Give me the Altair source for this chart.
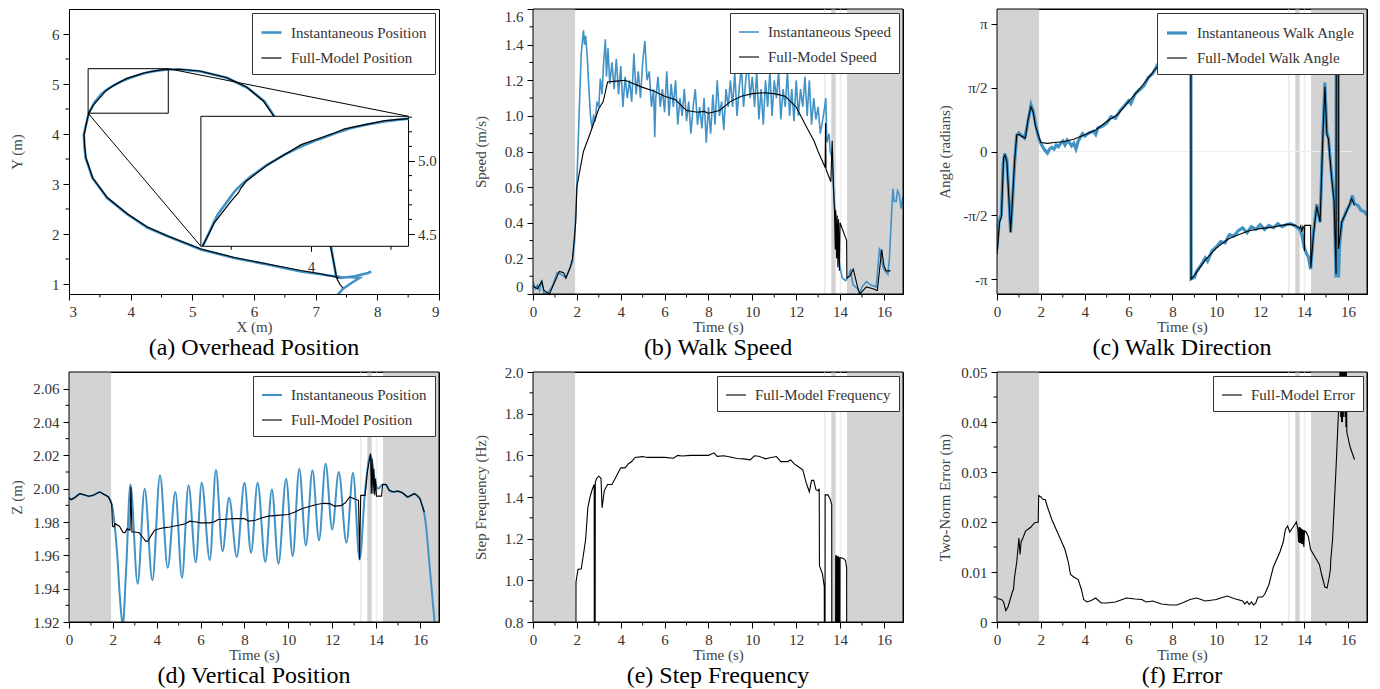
import altair as alt
import pandas as pd

FONT = "Liberation Serif"
BLUE = "#4292c6"
GRAY = "#d3d3d3"
LIGHT = "#ececec"
TMAX = 16.87
W = 370
H_TOP = 285
H_BOT = 250

# ---------------- shading bands (seconds) ----------------
band_start = [0.0, 13.6, 14.32]
band_end = [1.92, 13.8, 16.87]
light_start = [13.27, 13.99]
light_end = [13.34, 14.06]

t_major = [0, 2, 4, 6, 8, 10, 12, 14, 16]
t_minor = [1, 3, 5, 7, 9, 11, 13, 15]

# ---------------- (a) overhead position ----------------
traj_inst_x = [7.34, 7.44, 7.58, 7.71, 7.55, 7.41, 7.33, 7.29, 7.25, 6.9, 6.55, 6.33, 6.17, 5.9, 5.57, 5.14, 4.8,
               4.612, 4.56, 4.461, 4.35, 4.252, 4.15, 4.043, 3.94, 3.833, 3.72, 3.624, 3.57, 3.52, 3.47, 3.415,
               3.39, 3.37, 3.345, 3.32, 3.28, 3.24, 3.25, 3.27, 3.38, 3.62, 3.95, 4.27, 4.6, 5.14, 5.68, 6.22,
               6.76, 7.05, 7.3, 7.41, 7.63, 7.85, 7.9]
traj_inst_y = [0.76, 0.9, 1.02, 1.12, 1.14, 1.13, 1.17, 1.45, 1.75, 2.9, 3.85, 4.354, 4.65, 4.92, 5.12, 5.25, 5.29,
               5.29, 5.285, 5.27, 5.25, 5.226, 5.19, 5.146, 5.1, 5.044, 4.97, 4.895, 4.845, 4.79, 4.715, 4.633,
               4.58, 4.53, 4.47, 4.416, 4.2, 3.99, 3.75, 3.52, 3.12, 2.72, 2.39, 2.13, 1.955, 1.69, 1.52, 1.39,
               1.25, 1.2, 1.155, 1.12, 1.155, 1.22, 1.25]
traj_full_x = [7.44, 7.39, 7.34, 7.29, 7.24, 6.9, 6.55, 6.32, 6.15, 5.88, 5.55, 5.12, 4.8, 4.612, 4.461, 4.21,
               4.147, 3.938, 3.729, 3.593, 3.561, 3.544, 3.498, 3.394, 3.32, 3.28, 3.245, 3.255, 3.275, 3.385,
               3.62, 3.95, 4.27, 4.6, 5.14, 5.68, 6.22, 6.76, 7.0, 7.1, 7.2, 7.3, 7.38]
traj_full_y = [0.92, 1.0, 1.12, 1.45, 1.75, 2.9, 3.85, 4.36, 4.66, 4.94, 5.13, 5.26, 5.295, 5.29, 5.276, 5.22,
               5.192, 5.112, 4.975, 4.861, 4.815, 4.781, 4.724, 4.576, 4.416, 4.2, 3.99, 3.75, 3.52, 3.12,
               2.73, 2.4, 2.14, 1.96, 1.7, 1.53, 1.4, 1.27, 1.22, 1.2, 1.17, 1.15, 1.12]
zoom_box = [3.31, 4.61, 4.416, 5.306]          # x0, x1, y0, y1 of the zoomed region
inset_corners = [5.139, 1.754, 8.506, 4.354]   # inset placement in main axes coords (x0, y0, x1, y1)

# ---------------- (b) walk speed ----------------
speed_inst = [(0.0, 0.07), (0.1, 0.03), (0.2, 0.05), (0.3, 0.02), (0.4, 0.08), (0.5, 0.0), (0.7, 0.01), (0.9, 0.05),
              (1.1, 0.12), (1.3, 0.11), (1.5, 0.09), (1.7, 0.15), (1.8, 0.18), (1.9, 0.3), (2.0, 0.62), (2.1, 1.0),
              (2.2, 1.35), (2.3, 1.48), (2.35, 1.4), (2.4, 1.45), (2.47, 1.34), (2.55, 1.15), (2.62, 1.0),
              (2.69, 0.93), (2.76, 1.0), (2.84, 0.98), (2.92, 1.08), (3.0, 1.05), (3.07, 1.21), (3.15, 1.12),
              (3.22, 1.3), (3.3, 1.43), (3.35, 1.22), (3.42, 1.38), (3.5, 1.18), (3.6, 1.3), (3.7, 1.15),
              (3.8, 1.32), (3.9, 1.12), (4.0, 1.28), (4.1, 1.05), (4.2, 1.22), (4.3, 1.1), (4.4, 1.2), (4.5, 1.08),
              (4.6, 1.35), (4.7, 1.12), (4.8, 1.25), (4.9, 1.1), (5.0, 1.3), (5.1, 1.42), (5.2, 1.2), (5.3, 1.25),
              (5.4, 1.05), (5.5, 1.15), (5.55, 0.88), (5.6, 1.1), (5.7, 1.22), (5.8, 1.05), (5.9, 1.15),
              (6.0, 1.02), (6.1, 1.25), (6.2, 1.0), (6.3, 1.18), (6.4, 1.05), (6.5, 1.2), (6.6, 0.95), (6.7, 1.1),
              (6.8, 1.0), (6.9, 1.15), (7.0, 0.97), (7.1, 1.08), (7.2, 0.9), (7.3, 1.05), (7.4, 1.15), (7.5, 0.95),
              (7.6, 1.05), (7.7, 0.93), (7.8, 1.1), (7.9, 0.85), (8.0, 1.05), (8.1, 0.9), (8.2, 1.12), (8.3, 0.95),
              (8.4, 1.2), (8.5, 1.0), (8.6, 1.08), (8.7, 0.92), (8.8, 1.15), (8.9, 1.05), (9.0, 1.2), (9.1, 1.05),
              (9.2, 1.25), (9.3, 1.0), (9.4, 1.15), (9.5, 1.28), (9.6, 1.05), (9.7, 1.2), (9.8, 1.3), (9.9, 1.1),
              (10.0, 1.22), (10.1, 1.05), (10.2, 1.25), (10.3, 0.98), (10.4, 1.15), (10.5, 0.95), (10.6, 1.2),
              (10.7, 1.05), (10.8, 1.25), (10.9, 1.0), (11.0, 1.2), (11.1, 1.1), (11.2, 1.25), (11.3, 0.98),
              (11.4, 1.15), (11.5, 1.05), (11.6, 1.25), (11.7, 1.0), (11.8, 1.15), (11.9, 0.97), (12.0, 1.2),
              (12.1, 1.0), (12.2, 1.15), (12.3, 1.05), (12.4, 1.22), (12.5, 1.0), (12.6, 1.2), (12.7, 0.95),
              (12.8, 1.1), (12.9, 0.98), (13.0, 1.05), (13.1, 0.9), (13.2, 0.97), (13.3, 1.05), (13.35, 1.1),
              (13.4, 0.85), (13.5, 0.9), (13.55, 0.8), (13.6, 0.78), (13.65, 0.75), (13.7, 0.6), (13.75, 0.5),
              (13.8, 0.45), (13.88, 0.33), (13.95, 0.2), (14.0, 0.15), (14.1, 0.09), (14.25, 0.075), (14.4, 0.1),
              (14.48, 0.14), (14.55, 0.08), (14.6, 0.05), (14.8, 0.03), (14.9, 0.0), (15.0, 0.04), (15.2, 0.07),
              (15.4, 0.05), (15.65, 0.04), (15.8, 0.26), (15.95, 0.15), (16.1, 0.12), (16.18, 0.11), (16.25, 0.2),
              (16.35, 0.45), (16.41, 0.59), (16.47, 0.52), (16.56, 0.52), (16.62, 0.58), (16.7, 0.56),
              (16.78, 0.48), (16.87, 0.55)]
speed_full = [(0.0, 0.043), (0.2, 0.03), (0.4, 0.07), (0.5, 0.02), (0.75, 0.0), (1.0, 0.07), (1.2, 0.127), (1.4, 0.12),
              (1.5, 0.09), (1.7, 0.15), (1.8, 0.2), (1.95, 0.407), (2.0, 0.6), (2.1, 0.67), (2.3, 0.8), (2.6, 0.9),
              (3.0, 1.04), (3.2, 1.08), (3.4, 1.19), (3.8, 1.195), (4.2, 1.2), (5.0, 1.16), (5.5, 1.14), (6.0, 1.11),
              (6.5, 1.09), (7.0, 1.03), (7.5, 1.02), (7.8, 1.025), (8.0, 1.015), (8.5, 1.03), (9.0, 1.08),
              (9.5, 1.11), (10.0, 1.125), (10.5, 1.13), (11.0, 1.125), (11.5, 1.11), (12.0, 1.05), (12.5, 0.93),
              (12.81, 0.86), (13.0, 0.8), (13.32, 0.71), (13.34, 0.96), (13.36, 0.7), (13.58, 0.63), (13.64, 0.86),
              (13.7, 0.6), (13.75, 0.45), (13.78, 0.25), (13.8, 0.47), (13.84, 0.2), (13.87, 0.44), (13.9, 0.15),
              (13.93, 0.42), (13.97, 0.13), (14.0, 0.4), (14.3, 0.3), (14.31, 0.09), (14.45, 0.1), (14.6, 0.14),
              (14.8, 0.04), (14.9, 0.0), (15.2, 0.04), (15.5, 0.03), (15.7, 0.02), (15.9, 0.25), (16.0, 0.16),
              (16.1, 0.13), (16.3, 0.13)]

# ---------------- (c) walk direction (radians) ----------------
angle_inst = [(0.0, -2.4), (0.05, -2.0), (0.1, -1.7), (0.2, -1.55), (0.28, -0.3), (0.35, -0.05), (0.45, -0.2),
              (0.55, -1.2), (0.62, -2.0), (0.7, -1.3), (0.8, -0.3), (0.9, 0.4), (1.0, 0.46), (1.1, 0.4),
              (1.25, 0.33), (1.35, 0.55), (1.45, 0.85), (1.55, 1.15), (1.65, 1.0), (1.75, 0.7), (1.9, 0.33),
              (2.0, 0.2), (2.1, 0.1), (2.2, 0.02), (2.3, -0.04), (2.4, 0.06), (2.5, 0.1), (2.6, 0.06), (2.7, 0.16),
              (2.8, 0.12), (2.9, 0.2), (3.0, 0.26), (3.1, 0.16), (3.2, 0.28), (3.3, 0.22), (3.4, 0.14), (3.5, 0.2),
              (3.6, 0.06), (3.7, 0.25), (3.8, 0.35), (3.9, 0.44), (4.0, 0.38), (4.2, 0.46), (4.4, 0.5), (4.5, 0.42),
              (4.6, 0.58), (4.8, 0.62), (5.0, 0.7), (5.2, 0.86), (5.4, 0.82), (5.6, 1.0), (5.8, 1.12), (6.0, 1.25),
              (6.1, 1.18), (6.3, 1.42), (6.5, 1.52), (6.7, 1.62), (6.9, 1.82), (7.1, 1.92), (7.3, 2.12), (7.5, 2.3),
              (7.6, 2.22), (7.8, 2.45), (8.2, 2.72), (8.5, 2.95), (8.84, 3.14), (8.85, -3.14), (9.0, -3.1),
              (9.1, -2.95), (9.3, -2.8), (9.5, -2.62), (9.6, -2.7), (9.8, -2.45), (10.0, -2.35), (10.2, -2.22),
              (10.4, -2.25), (10.6, -2.05), (10.8, -2.08), (11.0, -1.95), (11.2, -1.88), (11.4, -2.0),
              (11.6, -1.85), (11.8, -1.92), (12.0, -1.8), (12.2, -1.92), (12.4, -1.82), (12.6, -1.88),
              (12.8, -1.78), (13.0, -1.85), (13.2, -1.8), (13.4, -1.78), (13.6, -1.84), (13.8, -1.92),
              (13.9, -2.05), (14.0, -2.35), (14.1, -2.5), (14.2, -2.6), (14.3, -2.9), (14.43, -2.0), (14.58, -1.3),
              (14.73, -1.75), (14.86, 0.45), (14.95, 1.7), (15.04, 0.45), (15.11, 0.35), (15.26, -0.62),
              (15.37, -1.2), (15.46, -3.1), (15.47, 3.3), (15.56, 3.3), (15.57, -3.1), (15.62, -2.3),
              (15.72, -1.75), (15.94, -1.45), (16.1, -1.3), (16.2, -1.08), (16.3, -1.3), (16.45, -1.32),
              (16.6, -1.45), (16.75, -1.48), (16.87, -1.57)]
angle_full = [(0.0, -2.54), (0.12, -1.73), (0.2, -1.63), (0.3, -0.16), (0.36, -0.09), (0.45, -0.25), (0.55, -1.23),
              (0.62, -1.98), (0.7, -1.23), (0.8, -0.25), (0.9, 0.41), (1.0, 0.42), (1.1, 0.38), (1.3, 0.33),
              (1.4, 0.74), (1.55, 1.1), (1.65, 0.97), (1.75, 0.63), (1.9, 0.38), (2.0, 0.22), (2.3, 0.2),
              (2.6, 0.22), (3.0, 0.24), (3.5, 0.3), (4.0, 0.41), (4.5, 0.53), (5.0, 0.74), (5.5, 0.91), (6.0, 1.23),
              (6.5, 1.54), (7.0, 1.88), (7.5, 2.21), (7.8, 2.42), (8.2, 2.7), (8.5, 2.92), (8.84, 3.14),
              (8.85, -3.14), (9.0, -3.05), (9.5, -2.67), (10.0, -2.38), (10.5, -2.17), (11.0, -2.05),
              (11.5, -1.95), (12.0, -1.9), (12.5, -1.87), (13.0, -1.82), (13.3, -1.79), (13.6, -1.82),
              (13.7, -1.85), (13.8, -1.89), (13.85, -1.83), (13.9, -1.98), (13.95, -1.84), (14.0, -1.9),
              (14.02, -2.45), (14.03, -1.82), (14.3, -1.82), (14.31, -2.86), (14.43, -2.04), (14.58, -1.35),
              (14.73, -1.73), (14.86, 0.41), (14.95, 1.6), (15.04, 0.41), (15.11, 0.31), (15.26, -0.66),
              (15.37, -1.23), (15.46, -3.02), (15.47, 3.3), (15.56, 3.3), (15.57, -2.4), (15.72, -1.73),
              (15.94, -1.48), (16.17, -1.16), (16.3, -1.32)]
zero_line = [(1.92, 16.2)]

# ---------------- (d) vertical position ----------------
z_inst = [(0.0, 1.9945), (0.1, 1.9935), (0.3, 1.995), (0.5, 1.997), (0.75, 1.996), (0.9, 1.9955), (1.1, 1.996),
          (1.4, 1.998), (1.6, 1.9965), (1.8, 1.995), (1.95, 1.9905), (2.05, 1.982), (2.2, 1.96), (2.32, 1.935),
          (2.45, 1.918), (2.6, 1.95), (2.8, 2.0025), (3.13, 1.943), (3.45, 2.0), (3.8, 1.945), (4.15, 2.008),
          (4.5, 1.9525), (4.85, 1.998), (5.15, 1.9465), (5.45, 2.002), (5.78, 1.9558), (6.05, 2.0035),
          (6.42, 1.957), (6.7, 2.0112), (7.0, 1.9625), (7.3, 1.9945), (7.65, 1.959), (8.0, 2.0035),
          (8.3, 1.9615), (8.6, 2.0035), (8.95, 1.956), (9.25, 1.9995), (9.55, 1.955), (9.9, 2.006),
          (10.2, 1.9595), (10.5, 2.012), (10.8, 1.966), (11.1, 2.011), (11.4, 1.969), (11.7, 2.015),
          (12.0, 1.9755), (12.3, 2.01), (12.65, 1.9675), (12.95, 2.0095), (13.25, 1.9575), (13.5, 1.9985),
          (13.75, 2.0205), (13.95, 2.0045), (14.1, 2.0), (14.3, 2.0025), (14.45, 2.0025), (14.6, 1.999),
          (14.8, 1.998), (15.0, 1.9985), (15.2, 1.9975), (15.45, 1.995), (15.6, 1.996), (15.75, 1.997),
          (15.9, 1.9955), (16.0, 1.994), (16.1, 1.99), (16.2, 1.985), (16.3, 1.975), (16.4, 1.96),
          (16.5, 1.945), (16.6, 1.93), (16.68, 1.918), (16.75, 1.9)]
z_full = [(0.0, 1.9945), (0.1, 1.9935), (0.3, 1.995), (0.5, 1.997), (0.75, 1.996), (0.9, 1.9955), (1.1, 1.996),
          (1.4, 1.998), (1.6, 1.9965), (1.8, 1.995), (1.95, 1.9905), (1.98, 1.9775), (2.05, 1.977), (2.1, 1.979),
          (2.3, 1.9775), (2.45, 1.974), (2.55, 1.9735), (2.65, 1.976), (2.78, 1.975), (2.82, 2.001),
          (2.87, 1.974), (3.0, 1.974), (3.2, 1.9735), (3.35, 1.971), (3.5, 1.9685), (3.6, 1.9685), (3.75, 1.972),
          (3.9, 1.975), (4.0, 1.9755), (4.3, 1.9765), (4.6, 1.977), (5.0, 1.978), (5.3, 1.979), (5.5, 1.9805),
          (5.8, 1.98), (6.0, 1.9795), (6.4, 1.9795), (6.6, 1.98), (6.8, 1.9815), (7.0, 1.9815), (7.5, 1.982),
          (8.0, 1.982), (8.2, 1.9805), (8.5, 1.981), (8.8, 1.9825), (9.1, 1.9835), (9.5, 1.984), (10.0, 1.9845),
          (10.3, 1.986), (10.6, 1.988), (11.0, 1.9895), (11.3, 1.9905), (11.6, 1.9912), (11.9, 1.991),
          (12.1, 1.9895), (12.4, 1.9898), (12.6, 1.9915), (12.8, 1.995), (13.0, 1.994), (13.2, 1.993),
          (13.25, 1.9575), (13.3, 1.996), (13.5, 1.996), (13.6, 2.01), (13.75, 2.021), (13.78, 1.997),
          (13.82, 2.018), (13.86, 1.997), (13.9, 2.012), (13.94, 1.996), (13.98, 2.006), (14.02, 1.9955),
          (14.25, 1.9955), (14.3, 2.0025), (14.45, 2.0025), (14.6, 1.999), (14.8, 1.998), (15.0, 1.9985),
          (15.2, 1.9975), (15.45, 1.995), (15.6, 1.996), (15.75, 1.997), (15.9, 1.9955), (16.0, 1.994),
          (16.1, 1.99), (16.2, 1.986)]

# ---------------- (e) step frequency ----------------
freq_full = [(1.95, 0.0), (1.96, 0.99), (2.05, 1.052), (2.2, 1.055), (2.3, 1.124), (2.4, 1.196), (2.5, 1.348),
             (2.6, 1.4), (2.7, 1.436), (2.79, 1.46), (2.8, 0.0), (2.83, 0.0), (2.84, 1.47), (2.9, 1.489),
             (3.0, 1.5), (3.1, 1.49), (3.15, 1.348), (3.25, 1.43), (3.4, 1.46), (3.6, 1.46), (3.8, 1.5),
             (4.0, 1.54), (4.2, 1.54), (4.35, 1.56), (4.5, 1.57), (4.65, 1.59), (5.0, 1.594), (5.2, 1.59),
             (5.5, 1.59), (6.0, 1.59), (6.4, 1.586), (6.6, 1.6), (6.8, 1.597), (7.2, 1.6), (7.6, 1.6), (8.0, 1.6),
             (8.25, 1.612), (8.4, 1.595), (8.7, 1.598), (9.0, 1.592), (9.3, 1.585), (9.6, 1.583), (9.9, 1.578),
             (10.1, 1.598), (10.3, 1.596), (10.6, 1.583), (10.8, 1.588), (11.1, 1.594), (11.3, 1.57), (11.6, 1.57),
             (11.75, 1.578), (11.9, 1.56), (12.1, 1.545), (12.3, 1.53), (12.45, 1.47), (12.6, 1.425),
             (12.7, 1.48), (12.8, 1.48), (12.9, 1.435), (13.0, 1.43), (13.05, 1.44), (13.06, 1.07), (13.2, 1.03),
             (13.28, 0.97), (13.3, 0.0), (13.31, 0.0), (13.32, 1.41), (13.45, 1.41), (13.55, 1.39),
             (13.62, 1.364), (13.63, 0.0), (13.79, 0.0), (13.8, 1.12), (13.82, 0.0), (13.84, 1.12), (13.86, 0.0),
             (13.88, 1.115), (13.9, 0.0), (13.92, 1.115), (13.94, 0.0), (13.96, 1.11), (13.98, 0.0), (14.0, 1.11),
             (14.15, 1.105), (14.25, 1.095), (14.3, 1.06), (14.31, 0.0)]

# ---------------- (f) error ----------------
err_full = [(0.0, 0.0047), (0.2, 0.0045), (0.3, 0.004), (0.4, 0.0023), (0.5, 0.003), (0.6, 0.0045), (0.7, 0.006),
            (0.75, 0.0065), (0.8, 0.009), (0.9, 0.012), (1.0, 0.0168), (1.05, 0.0135), (1.1, 0.016), (1.2, 0.017),
            (1.3, 0.0182), (1.4, 0.0185), (1.55, 0.019), (1.7, 0.0198), (1.88, 0.02), (1.9, 0.0253),
            (2.0, 0.025), (2.1, 0.0245), (2.2, 0.0245), (2.3, 0.023), (2.5, 0.0205), (2.7, 0.0185),
            (2.9, 0.0165), (3.1, 0.0145), (3.25, 0.012), (3.35, 0.0095), (3.5, 0.009), (3.7, 0.0085),
            (3.85, 0.0065), (3.95, 0.0045), (4.1, 0.004), (4.3, 0.0043), (4.5, 0.0048), (4.75, 0.0038),
            (5.0, 0.0038), (5.4, 0.004), (5.9, 0.0048), (6.3, 0.0046), (6.6, 0.0045), (6.8, 0.004),
            (7.1, 0.0042), (7.5, 0.0036), (7.9, 0.0034), (8.2, 0.0034), (8.5, 0.0039), (8.8, 0.0045),
            (9.1, 0.0048), (9.5, 0.0042), (10.0, 0.0045), (10.2, 0.0048), (10.5, 0.0052), (10.8, 0.0047),
            (11.2, 0.0042), (11.3, 0.0036), (11.4, 0.0041), (11.5, 0.0035), (11.6, 0.004), (11.7, 0.0034),
            (11.8, 0.0038), (11.9, 0.005), (12.1, 0.005), (12.2, 0.0055), (12.4, 0.0075), (12.6, 0.011),
            (12.9, 0.014), (13.05, 0.016), (13.15, 0.0185), (13.25, 0.0192), (13.35, 0.018), (13.5, 0.019),
            (13.65, 0.02), (13.72, 0.0185), (13.75, 0.016), (13.77, 0.019), (13.79, 0.0158), (13.81, 0.019),
            (13.83, 0.0158), (13.85, 0.0188), (13.87, 0.0157), (13.89, 0.0186), (13.91, 0.0156),
            (13.93, 0.0185), (13.95, 0.0155), (13.97, 0.0184), (13.99, 0.015), (14.02, 0.0182), (14.1, 0.018),
            (14.2, 0.017), (14.3, 0.0145), (14.5, 0.013), (14.7, 0.0115), (14.8, 0.0095), (14.95, 0.007),
            (15.05, 0.0068), (15.15, 0.009), (15.2, 0.0105), (15.22, 0.0125), (15.3, 0.0165), (15.45, 0.03),
            (15.6, 0.045), (15.65, 0.052), (15.67, 0.041), (15.69, 0.052), (15.71, 0.04), (15.73, 0.052),
            (15.75, 0.04), (15.77, 0.052), (15.79, 0.041), (15.81, 0.052), (15.83, 0.042), (15.85, 0.052),
            (15.87, 0.041), (15.89, 0.052), (15.91, 0.039), (15.93, 0.05), (15.95, 0.038), (16.0, 0.037),
            (16.1, 0.035), (16.3, 0.0325)]


def series_frame(pairs, name):
    return pd.DataFrame({"t": [p[0] for p in pairs], "v": [p[1] for p in pairs],
                         "s": name, "i": list(range(len(pairs)))})


def make_legend(stroke_width=None):
    kw = dict(title=None, orient="top-right", offset=4, padding=8, strokeColor="#333333",
              fillColor="white", cornerRadius=0, labelFont=FONT, labelFontSize=15, labelColor="#333333",
              symbolType="stroke", symbolSize=400, rowPadding=6, labelOffset=8, labelLimit=400)
    if stroke_width is not None:
        kw["symbolStrokeWidth"] = stroke_width
    return alt.Legend(**kw)


LEG = make_legend()


def caption(text):
    return alt.TitleParams(text=text, orient="bottom", font=FONT, fontSize=24, fontWeight="normal",
                           color="black", anchor="middle", offset=2)


def frame(H):
    # plot-area outline drawn above the shaded bands
    return alt.Chart(pd.DataFrame({"k": [0]})).mark_rect(fill=None, stroke="black", strokeWidth=1).encode(
        x=alt.value(0), x2=alt.value(W), y=alt.value(0), y2=alt.value(H))


def minor_ticks(xs, ys, xaxis, yaxis, H, xminor, yminor):
    out = []
    if xminor:
        out.append(alt.Chart(pd.DataFrame({"m": xminor})).mark_rule(color="black", strokeWidth=1).encode(
            x=alt.X("m:Q", scale=xs, axis=xaxis), y=alt.value(H), y2=alt.value(H + 3.5)))
    if yminor:
        out.append(alt.Chart(pd.DataFrame({"m": yminor})).mark_rule(color="black", strokeWidth=1).encode(
            y=alt.Y("m:Q", scale=ys, axis=yaxis), x=alt.value(0), x2=alt.value(-3.5)))
    return out


def time_panel(H, ydom, ymajor, yminor, ylabel_expr, ytitle, series, text, zero=False, yflush=False):
    xs = alt.Scale(domain=[0, TMAX], nice=False, zero=False)
    ys = alt.Scale(domain=ydom, nice=False, zero=False)
    xaxis = alt.Axis(values=t_major, title="Time (s)", labelExpr="format(datum.value, 'd')", labelFlush=False)
    yaxis = alt.Axis(values=ymajor, title=ytitle, labelExpr=ylabel_expr, labelFlush=yflush)
    bands = alt.Chart(pd.DataFrame({"a": band_start, "b": band_end})).mark_rect(color=GRAY).encode(
        x=alt.X("a:Q", scale=xs, axis=xaxis), x2="b:Q", y=alt.value(0), y2=alt.value(H))
    light = alt.Chart(pd.DataFrame({"a": light_start, "b": light_end})).mark_rect(color=LIGHT).encode(
        x=alt.X("a:Q", scale=xs, axis=xaxis), x2="b:Q", y=alt.value(0), y2=alt.value(H))
    layers = [bands, light]
    if zero:
        layers.append(alt.Chart(pd.DataFrame({"a": [z[0] for z in zero_line], "b": [z[1] for z in zero_line],
                                              "y": [0.0]})).mark_rule(color="#eeeeee", strokeWidth=1).encode(
            x=alt.X("a:Q", scale=xs, axis=xaxis), x2="b:Q", y=alt.Y("y:Q", scale=ys, axis=yaxis)))
    names = [s[0] for s in series]
    cscale = alt.Scale(domain=names, range=[s[2] for s in series])
    multi = len(series) > 1
    wscale = alt.Scale(domain=names, range=[s[3] for s in series])
    for name, pairs, color, width, interp in series:
        enc = dict(x=alt.X("t:Q", scale=xs, axis=xaxis),
                   y=alt.Y("v:Q", scale=ys, axis=yaxis),
                   order="i:Q")
        if multi:
            enc["color"] = alt.Color("s:N", scale=cscale, legend=LEG)
            enc["strokeWidth"] = alt.StrokeWidth("s:N", scale=wscale, legend=LEG)
            mark = alt.Chart(series_frame(pairs, name)).mark_line(clip=True, interpolate=interp)
        else:
            enc["color"] = alt.Color("s:N", scale=cscale, legend=make_legend(width))
            mark = alt.Chart(series_frame(pairs, name)).mark_line(clip=True, interpolate=interp,
                                                                  strokeWidth=width)
        layers.append(mark.encode(**enc))
    layers += minor_ticks(xs, ys, xaxis, yaxis, H, t_minor, yminor)
    layers.append(frame(H))
    return alt.layer(*layers).properties(width=W, height=H, title=caption(text))


# ---------------- panel (a) ----------------
AX0, AX1, AY0, AY1 = 3.0, 9.0, 0.8, 6.5
axs = alt.Scale(domain=[AX0, AX1], nice=False, zero=False)
ays = alt.Scale(domain=[AY0, AY1], nice=False, zero=False)
a_xaxis = alt.Axis(values=[3, 4, 5, 6, 7, 8, 9], title="X (m)", labelExpr="format(datum.value, 'd')")
a_yaxis = alt.Axis(values=[1, 2, 3, 4, 5, 6], title="Y (m)", labelExpr="format(datum.value, 'd')")
n_a = ["Instantaneous Position", "Full-Model Position"]
ca = alt.Scale(domain=n_a, range=[BLUE, "black"])
wa = alt.Scale(domain=n_a, range=[2.6, 1.2])

inst_df = pd.DataFrame({"x": traj_inst_x, "y": traj_inst_y, "s": n_a[0], "i": list(range(len(traj_inst_x)))})
full_df = pd.DataFrame({"x": traj_full_x, "y": traj_full_y, "s": n_a[1], "i": list(range(len(traj_full_x)))})

a_blue = alt.Chart(inst_df).mark_line(clip=True).encode(
    x=alt.X("x:Q", scale=axs, axis=a_xaxis), y=alt.Y("y:Q", scale=ays, axis=a_yaxis),
    color=alt.Color("s:N", scale=ca, legend=LEG),
    strokeWidth=alt.StrokeWidth("s:N", scale=wa, legend=LEG), order="i:Q")
a_black = alt.Chart(full_df).mark_line(clip=True).encode(
    x=alt.X("x:Q", scale=axs, axis=a_xaxis), y=alt.Y("y:Q", scale=ays, axis=a_yaxis),
    color=alt.Color("s:N", scale=ca, legend=LEG),
    strokeWidth=alt.StrokeWidth("s:N", scale=wa, legend=LEG), order="i:Q")
box_df = pd.DataFrame({"x": [zoom_box[0]], "x2": [zoom_box[1]], "y": [zoom_box[2]], "y2": [zoom_box[3]]})
a_box = alt.Chart(box_df).mark_rect(fill=None, stroke="black", strokeWidth=1).encode(
    x=alt.X("x:Q", scale=axs, axis=a_xaxis), x2="x2:Q", y=alt.Y("y:Q", scale=ays, axis=a_yaxis), y2="y2:Q")
conn_df = pd.DataFrame({"x": [zoom_box[0], zoom_box[1]], "y": [zoom_box[2], zoom_box[3]],
                        "x2": [inset_corners[0], inset_corners[2]], "y2": [inset_corners[1], inset_corners[3]]})
a_conn = alt.Chart(conn_df).mark_rule(color="black", strokeWidth=1).encode(
    x=alt.X("x:Q", scale=axs, axis=a_xaxis), x2="x2:Q", y=alt.Y("y:Q", scale=ays, axis=a_yaxis), y2="y2:Q")
main_a = alt.layer(a_blue, a_black, a_box, a_conn,
                   *minor_ticks(axs, ays, a_xaxis, a_yaxis, H_TOP, [3.5, 4.5, 5.5, 6.5, 7.5, 8.5],
                                [1.5, 2.5, 3.5, 4.5, 5.5]))

# inset placed through its own scales
ix0 = (inset_corners[0] - AX0) / (AX1 - AX0) * W
ix1 = (inset_corners[2] - AX0) / (AX1 - AX0) * W
iy0 = H_TOP - (inset_corners[1] - AY0) / (AY1 - AY0) * H_TOP
iy1 = H_TOP - (inset_corners[3] - AY0) / (AY1 - AY0) * H_TOP
ixs = alt.Scale(domain=[zoom_box[0], zoom_box[1]], range=[ix0, ix1], nice=False, zero=False)
iys = alt.Scale(domain=[zoom_box[2], zoom_box[3]], range=[iy0, iy1], nice=False, zero=False)
i_xaxis = alt.Axis(orient="bottom", offset=-(H_TOP - iy0), values=[4], labelExpr="'4'", title=None,
                   domain=False, tickSize=5, labelPadding=8, labelFlush=False)
i_yaxis = alt.Axis(orient="right", offset=-(W - ix1), values=[4.5, 5.0], labelExpr="format(datum.value, '.1f')",
                   title=None, domain=False, tickSize=6, labelPadding=3, minExtent=0, maxExtent=30)
in_filter_x = alt.FieldRangePredicate(field="x", range=[zoom_box[0], zoom_box[1] + 0.01])
in_filter_y = alt.FieldRangePredicate(field="y", range=[zoom_box[2] - 0.005, zoom_box[3]])

i_bg = alt.Chart(box_df).mark_rect(fill="white", stroke="black", strokeWidth=1).encode(
    x=alt.X("x:Q", scale=ixs, axis=i_xaxis), x2="x2:Q", y=alt.Y("y:Q", scale=iys, axis=i_yaxis), y2="y2:Q")
i_blue = alt.Chart(inst_df).transform_filter(in_filter_x).transform_filter(in_filter_y).mark_line(
    color=BLUE, strokeWidth=2.6).encode(
    x=alt.X("x:Q", scale=ixs, axis=i_xaxis), y=alt.Y("y:Q", scale=iys, axis=i_yaxis), order="i:Q")
i_black = alt.Chart(full_df).transform_filter(in_filter_x).transform_filter(in_filter_y).mark_line(
    color="black", strokeWidth=1.2).encode(
    x=alt.X("x:Q", scale=ixs, axis=i_xaxis), y=alt.Y("y:Q", scale=iys, axis=i_yaxis), order="i:Q")
i_minx = alt.Chart(pd.DataFrame({"m": [3.5, 4.5]})).mark_rule(color="black").encode(
    x=alt.X("m:Q", scale=ixs, axis=i_xaxis), y=alt.value(iy0), y2=alt.value(iy0 + 3.5))
i_miny = alt.Chart(pd.DataFrame({"m": [4.6, 4.7, 4.8, 4.9, 5.1, 5.2, 5.3]})).mark_rule(color="black").encode(
    y=alt.Y("m:Q", scale=iys, axis=i_yaxis), x=alt.value(ix1), x2=alt.value(ix1 + 3.5))
inset_a = alt.layer(i_bg, i_blue, i_black, i_minx, i_miny)

panel_a = alt.layer(main_a, inset_a).resolve_scale(x="independent", y="independent").properties(
    width=W, height=H_TOP, title=caption("(a) Overhead Position"))

# ---------------- other panels ----------------
panel_b = time_panel(H_TOP, [0, 1.6], [0, 0.2, 0.4, 0.6, 0.8, 1.0, 1.2, 1.4, 1.6],
                     [0.1, 0.3, 0.5, 0.7, 0.9, 1.1, 1.3, 1.5],
                     "datum.value == 0 ? '0' : format(datum.value, '.1f')", "Speed (m/s)",
                     [("Instantaneous Speed", speed_inst, BLUE, 1.6, "linear"),
                      ("Full-Model Speed", speed_full, "black", 1.1, "linear")],
                     "(b) Walk Speed", yflush=True)

panel_c = time_panel(H_TOP, [-3.51, 3.51], [3.14159, 1.5708, 0, -1.5708, -3.14159], [],
                     "datum.value > 3 ? 'π' : datum.value > 1 ? 'π/2' : datum.value > -1 ? '0' : "
                     "datum.value > -3 ? '-π/2' : '-π'", "Angle (radians)",
                     [("Instantaneous Walk Angle", angle_inst, BLUE, 3.2, "linear"),
                      ("Full-Model Walk Angle", angle_full, "black", 1.1, "linear")],
                     "(c) Walk Direction", zero=True)

panel_d = time_panel(H_BOT, [1.92, 2.07], [1.92, 1.94, 1.96, 1.98, 2.0, 2.02, 2.04, 2.06],
                     [1.93, 1.95, 1.97, 1.99, 2.01, 2.03, 2.05],
                     "format(datum.value, '.2f')", "Z (m)",
                     [("Instantaneous Position", z_inst, BLUE, 2.0, "monotone"),
                      ("Full-Model Position", z_full, "black", 1.1, "linear")],
                     "(d) Vertical Position")

panel_e = time_panel(H_BOT, [0.8, 2.0], [0.8, 1.0, 1.2, 1.4, 1.6, 1.8, 2.0],
                     [0.9, 1.1, 1.3, 1.5, 1.7, 1.9],
                     "format(datum.value, '.1f')", "Step Frequency (Hz)",
                     [("Full-Model Frequency", freq_full, "black", 1.1, "linear")],
                     "(e) Step Frequency")

panel_f = time_panel(H_BOT, [0, 0.05], [0, 0.01, 0.02, 0.03, 0.04, 0.05],
                     [0.005, 0.015, 0.025, 0.035, 0.045],
                     "datum.value == 0 ? '0' : format(datum.value, '.2f')", "Two-Norm Error (m)",
                     [("Full-Model Error", err_full, "black", 1.1, "linear")],
                     "(f) Error")

row1 = alt.hconcat(panel_a, panel_b, panel_c, spacing=32).resolve_scale(
    color="independent", strokeWidth="independent")
row2 = alt.hconcat(panel_d, panel_e, panel_f, spacing=32).resolve_scale(
    color="independent", strokeWidth="independent")

chart = alt.vconcat(row1, row2, spacing=3).resolve_scale(
    color="independent", strokeWidth="independent").properties(
    padding={"left": 0, "top": 0, "right": 0, "bottom": 0}
).configure_view(stroke="black", strokeWidth=1).configure_axis(
    labelFont=FONT, titleFont=FONT, labelFontSize=15, titleFontSize=15, titleFontWeight="normal",
    labelColor="#333333", titleColor="#444444", tickColor="black", domainColor="black",
    tickSize=6, labelPadding=4, grid=False
).configure_axisX(titlePadding=0).configure_axisY(titlePadding=7, minExtent=38, maxExtent=38)

chart.save("out.html", embed_options={"renderer": "svg", "actions": False})
